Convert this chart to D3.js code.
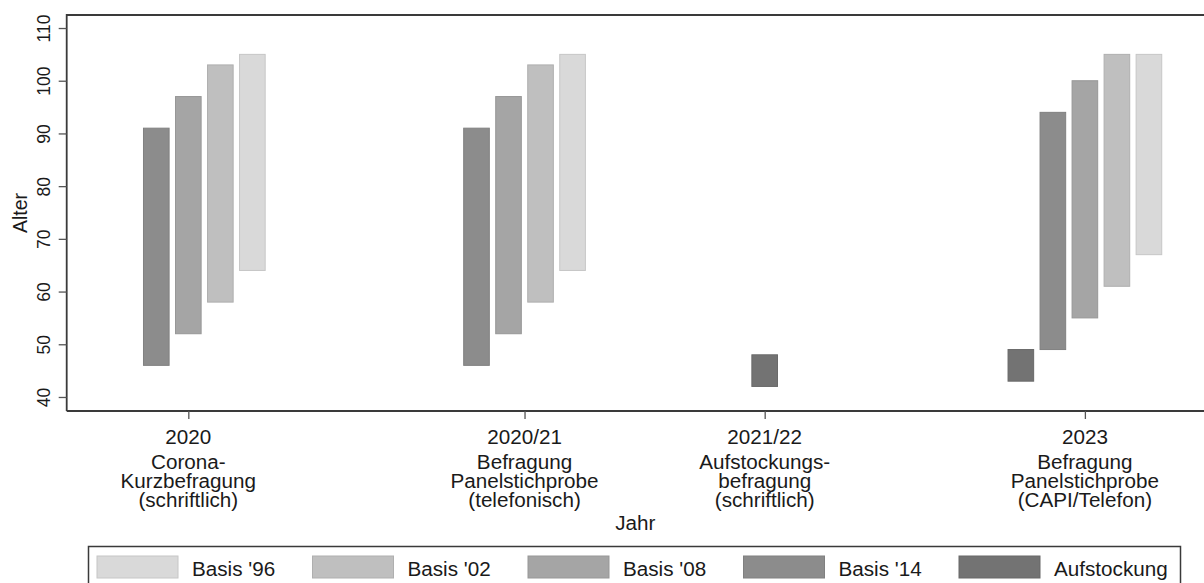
<!DOCTYPE html>
<html>
<head>
<meta charset="utf-8">
<script src="https://cdn.jsdelivr.net/npm/d3@7"></script>
<style>
  html, body { margin: 0; padding: 0; background: #fff; }
  svg { display: block; font-family: "Liberation Sans", Arial, sans-serif; }
</style>
</head>
<body>
<svg id="chart" width="1204" height="583"></svg>
<script>
// ---- data ----
const categories = [
  ["2020", "Corona-", "Kurzbefragung", "(schriftlich)"],
  ["2020/21", "Befragung", "Panelstichprobe", "(telefonisch)"],
  ["2021/22", "Aufstockungs-", "befragung", "(schriftlich)"],
  ["2023", "Befragung", "Panelstichprobe", "(CAPI/Telefon)"]
];
const categorySlots = [2, 12.5, 20, 30];
const yTicks = [40, 50, 60, 70, 80, 90, 100, 110];

const seriesNames = ["Basis '96", "Basis '02", "Basis '08", "Basis '14", "Aufstockung"];
const seriesColors = ["#d9d9d9", "#bfbfbf", "#a5a5a5", "#8c8c8c", "#737373"];

const basis14Slots = [1, 11, 29];
const basis14Low   = [46, 46, 49];
const basis14High  = [91, 91, 94];

const basis08Slots = [2, 12, 30];
const basis08Low   = [52, 52, 55];
const basis08High  = [97, 97, 100];

const basis02Slots = [3, 13, 31];
const basis02Low   = [58, 58, 61];
const basis02High  = [103, 103, 105];

const basis96Slots = [4, 14, 32];
const basis96Low   = [64, 64, 67];
const basis96High  = [105, 105, 105];

const aufSlots = [20, 28];
const aufLow   = [42, 43];
const aufHigh  = [48, 49];

// ---- build ----
const seriesData = [
  {name: seriesNames[0], color: seriesColors[0], slots: basis96Slots, low: basis96Low, high: basis96High},
  {name: seriesNames[1], color: seriesColors[1], slots: basis02Slots, low: basis02Low, high: basis02High},
  {name: seriesNames[2], color: seriesColors[2], slots: basis08Slots, low: basis08Low, high: basis08High},
  {name: seriesNames[3], color: seriesColors[3], slots: basis14Slots, low: basis14Low, high: basis14High},
  {name: seriesNames[4], color: seriesColors[4], slots: aufSlots, low: aufLow, high: aufHigh}
];

const svg = d3.select("#chart");
const plot = {left: 66.7, right: 1204, top: 15, bottom: 411};

const x = d3.scale ? null : null;
const xScale = d3.scaleLinear().domain([-1.798, 33.72]).range([plot.left, plot.right]);
const yScale = d3.scaleLinear().domain([37.34, 112.47]).range([plot.bottom, plot.top]);
const barW = xScale(0.8) - xScale(0);

const textColor = "#1a1a1a";
const axisColor = "#3a3a3a";

// bars
seriesData.forEach(s => {
  const rows = s.slots.map((sl, i) => ({slot: sl, low: s.low[i], high: s.high[i]}));
  svg.append("g").selectAll("rect").data(rows).join("rect")
    .attr("x", d => xScale(d.slot) - barW / 2)
    .attr("width", barW)
    .attr("y", d => yScale(d.high))
    .attr("height", d => yScale(d.low) - yScale(d.high))
    .attr("fill", s.color)
    .attr("stroke", d3.color(s.color).darker(0.25))
    .attr("stroke-width", 1);
});

// frame (top + right off-canvas)
svg.append("path")
  .attr("d", `M${plot.left},${plot.bottom} L${plot.left},${plot.top} L${plot.right + 2},${plot.top}`)
  .attr("fill", "none").attr("stroke", axisColor).attr("stroke-width", 1.8);

// y axis
const yAxis = d3.axisLeft(yScale).tickValues(yTicks).tickSize(8).tickSizeOuter(0).tickFormat(d3.format("d"));
const gy = svg.append("g").attr("transform", `translate(${plot.left},0)`).call(yAxis);
gy.select(".domain").remove();
gy.selectAll(".tick line").attr("stroke", "#555").attr("stroke-width", 1.3);
gy.selectAll(".tick text")
  .attr("x", null).attr("dy", null)
  .attr("transform", "translate(-17,0) rotate(-90)")
  .attr("text-anchor", "middle")
  .attr("fill", textColor)
  .style("font-size", "17.5px")
  .style("font-family", "'Liberation Sans', Arial, sans-serif");

// x axis
const xAxis = d3.axisBottom(xScale).tickValues(categorySlots).tickSize(8).tickSizeOuter(0).tickFormat("");
const gx = svg.append("g").attr("transform", `translate(0,${plot.bottom})`).call(xAxis);
gx.select(".domain").attr("stroke", axisColor).attr("stroke-width", 1.8)
  .attr("d", `M${plot.left},0 H${plot.right + 2}`);
gx.selectAll(".tick line").attr("stroke", "#555").attr("stroke-width", 1.3);

const lineBaselines = [444, 469, 488, 507];
categories.forEach((lines, i) => {
  const cx = xScale(categorySlots[i]);
  lines.forEach((t, j) => {
    svg.append("text")
      .attr("transform", `translate(${cx},${lineBaselines[j]}) scale(1.06,1)`)
      .attr("text-anchor", "middle")
      .attr("fill", textColor)
      .style("font-size", "19.5px")
      .text(t);
  });
});

// axis titles
svg.append("text")
  .attr("transform", `translate(27,${(plot.top + plot.bottom) / 2}) rotate(-90)`)
  .attr("text-anchor", "middle").attr("fill", textColor)
  .style("font-size", "19.5px").text("Alter");

svg.append("text")
  .attr("transform", `translate(${(plot.left + plot.right) / 2},530) scale(1.06,1)`)
  .attr("text-anchor", "middle").attr("fill", textColor)
  .style("font-size", "19.5px").text("Jahr");

// legend
const legend = svg.append("g");
legend.append("rect")
  .attr("x", 88.5).attr("y", 546.5).attr("width", 1092).attr("height", 60)
  .attr("fill", "#fff").attr("stroke", axisColor).attr("stroke-width", 1.5);
const legX = d3.scaleLinear().domain([0, 1]).range([97, 312.5]);
const items = legend.selectAll("g.item").data(seriesData).join("g")
  .attr("class", "item")
  .attr("transform", (d, i) => `translate(${legX(i)},556)`);
items.append("rect")
  .attr("width", 81).attr("height", 22)
  .attr("fill", d => d.color)
  .attr("stroke", d => d3.color(d.color).darker(0.25)).attr("stroke-width", 1);
items.append("text")
  .attr("transform", "translate(95,20) scale(1.06,1)")
  .attr("fill", textColor)
  .style("font-size", "19.5px")
  .text(d => d.name);
</script>
</body>
</html>
